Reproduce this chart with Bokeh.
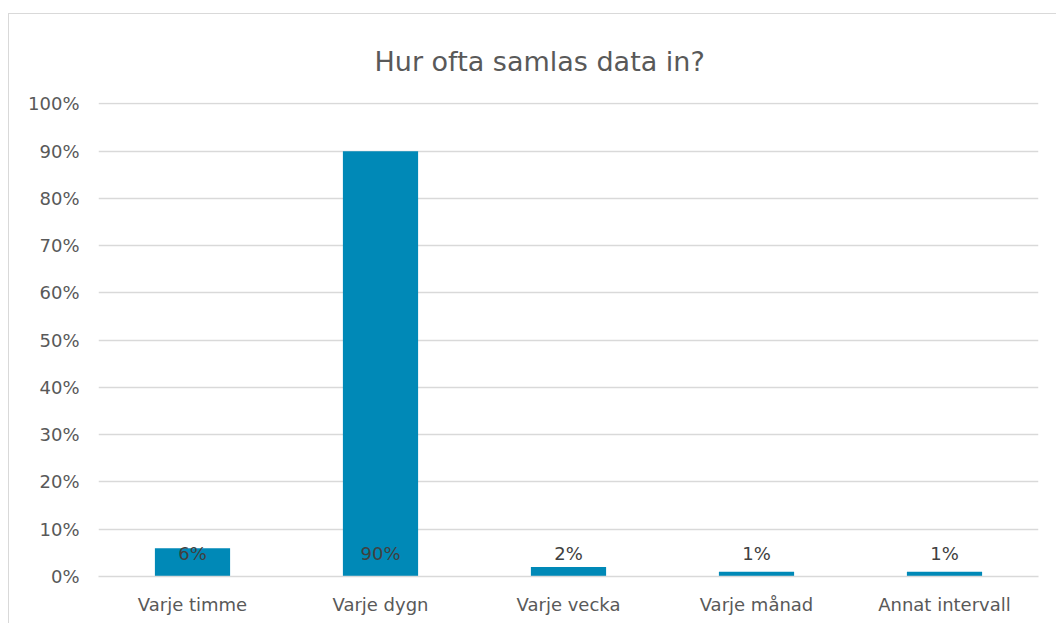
from bokeh.plotting import figure
from bokeh.models import ColumnDataSource, FactorRange, Range1d, NumeralTickFormatter, Title, FixedTicker
from bokeh.core.properties import value
from bokeh.embed import file_html
from bokeh.resources import INLINE

categories = ["Varje timme", "Varje dygn", "Varje vecka", "Varje månad", "Annat intervall"]
values = [0.06, 0.90, 0.02, 0.01, 0.01]
labels = ["6%", "90%", "2%", "1%", "1%"]
y_ticks = [0, 0.1, 0.2, 0.3, 0.4, 0.5, 0.6, 0.7, 0.8, 0.9, 1.0]

FONT = "DejaVu Sans"
TXT = "#595959"

src = ColumnDataSource(dict(cat=categories, val=values, lab=labels, zero=[0] * len(values)))

p = figure(x_range=FactorRange(*categories), y_range=Range1d(0, 1.003),
           width=1048, height=610, output_backend="svg", toolbar_location=None,
           min_border_left=89, min_border_right=19, min_border_top=88, min_border_bottom=48,
           margin=(13, 0, 0, 8),
           styles={"border-top": "1px solid #d9d9d9", "border-left": "1px solid #d9d9d9"})

p.title = Title(text="Hur ofta samlas data in?", align="left", vertical_align="top", text_font=FONT,
                text_font_size="27px", text_font_style="normal", text_color=TXT,
                offset=276, standoff=47)

p.vbar(x="cat", top="val", width=0.4, source=src, color="#0089B7", line_color=None)
p.text(x="cat", y="zero", text="lab", source=src, text_align="center", text_baseline="middle",
       y_offset=-23, text_font=value(FONT), text_font_size="18px", text_color="#404040")

p.outline_line_color = None
p.background_fill_color = "white"
p.border_fill_color = "white"

p.xgrid.grid_line_color = None
p.ygrid.grid_line_color = "#d9d9d9"
p.ygrid.grid_line_width = 1.5
p.yaxis.ticker = FixedTicker(ticks=y_ticks)
p.yaxis.formatter = NumeralTickFormatter(format="0%")
p.yaxis.axis_line_color = None
p.yaxis.major_tick_line_color = None
p.yaxis.minor_tick_line_color = None
p.yaxis.major_label_text_font = FONT
p.yaxis.major_label_text_font_size = "18px"
p.yaxis.major_label_text_color = TXT
p.yaxis.major_label_standoff = 13

p.xaxis.axis_line_color = "#d9d9d9"
p.xaxis.axis_line_width = 1.5
p.xaxis.major_tick_line_color = None
p.xaxis.minor_tick_line_color = None
p.xaxis.major_label_text_font = FONT
p.xaxis.major_label_text_font_size = "18px"
p.xaxis.major_label_text_color = TXT
p.xaxis.major_label_standoff = 11

open("out.html", "w").write(file_html(p, INLINE))
